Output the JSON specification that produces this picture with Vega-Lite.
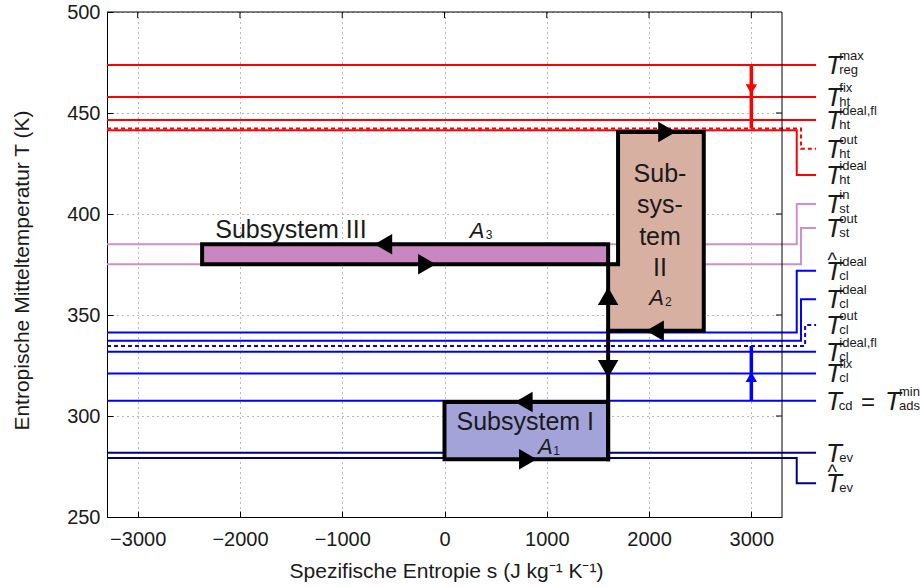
{
  "$schema": "https://vega.github.io/schema/vega-lite/v6.json",
  "autosize": "none",
  "width": 675,
  "height": 505,
  "padding": {"left": 107, "top": 12, "right": 138, "bottom": 70},
  "background": "white",
  "config": {
    "font": "Liberation Sans",
    "view": {"stroke": null},
    "axis": {
      "domainColor": "#000",
      "domainWidth": 1,
      "tickColor": "#000",
      "tickSize": -6,
      "labelColor": "#1a1a1a",
      "titleColor": "#1a1a1a",
      "labelFont": "Liberation Sans",
      "titleFont": "Liberation Sans",
      "labelFontSize": 20,
      "titleFontSize": 21,
      "titleFontWeight": "normal",
      "grid": true,
      "gridColor": "#000",
      "gridDash": [1, 4],
      "gridOpacity": 0.55,
      "gridWidth": 1
    }
  },
  "datasets": {
    "lines": [
      {"id": "rm", "grp": "heat", "dash": "solid", "o": 0, "s": -3300, "T": 473.8},
      {"id": "rm", "grp": "heat", "dash": "solid", "o": 1, "s": 3633, "T": 473.8},
      {"id": "hf", "grp": "heat", "dash": "solid", "o": 0, "s": -3300, "T": 457.9},
      {"id": "hf", "grp": "heat", "dash": "solid", "o": 1, "s": 3633, "T": 457.9},
      {"id": "hifl", "grp": "heat", "dash": "solid", "o": 0, "s": -3300, "T": 446.5},
      {"id": "hifl", "grp": "heat", "dash": "solid", "o": 1, "s": 3633, "T": 446.5},
      {"id": "ho", "grp": "heat", "dash": "dashed", "o": 0, "s": -3300, "T": 442.3},
      {"id": "ho", "grp": "heat", "dash": "dashed", "o": 1, "s": 3486, "T": 442.3},
      {"id": "ho", "grp": "heat", "dash": "dashed", "o": 2, "s": 3486, "T": 432.3},
      {"id": "ho", "grp": "heat", "dash": "dashed", "o": 3, "s": 3633, "T": 432.3},
      {"id": "hi", "grp": "heat", "dash": "solid", "o": 0, "s": -3300, "T": 441.5},
      {"id": "hi", "grp": "heat", "dash": "solid", "o": 1, "s": 3444, "T": 441.5},
      {"id": "hi", "grp": "heat", "dash": "solid", "o": 2, "s": 3444, "T": 419.3},
      {"id": "hi", "grp": "heat", "dash": "solid", "o": 3, "s": 3633, "T": 419.3},
      {"id": "si", "grp": "stor", "dash": "solid", "o": 0, "s": -3300, "T": 385.0},
      {"id": "si", "grp": "stor", "dash": "solid", "o": 1, "s": 3444, "T": 385.0},
      {"id": "si", "grp": "stor", "dash": "solid", "o": 2, "s": 3444, "T": 405.0},
      {"id": "si", "grp": "stor", "dash": "solid", "o": 3, "s": 3633, "T": 405.0},
      {"id": "so", "grp": "stor", "dash": "solid", "o": 0, "s": -3300, "T": 375.1},
      {"id": "so", "grp": "stor", "dash": "solid", "o": 1, "s": 3486, "T": 375.1},
      {"id": "so", "grp": "stor", "dash": "solid", "o": 2, "s": 3486, "T": 393.1},
      {"id": "so", "grp": "stor", "dash": "solid", "o": 3, "s": 3633, "T": 393.1},
      {"id": "cih", "grp": "cool", "dash": "solid", "o": 0, "s": -3300, "T": 341.3},
      {"id": "cih", "grp": "cool", "dash": "solid", "o": 1, "s": 3444, "T": 341.3},
      {"id": "cih", "grp": "cool", "dash": "solid", "o": 2, "s": 3444, "T": 371.9},
      {"id": "cih", "grp": "cool", "dash": "solid", "o": 3, "s": 3633, "T": 371.9},
      {"id": "ci", "grp": "cool", "dash": "solid", "o": 0, "s": -3300, "T": 337.3},
      {"id": "ci", "grp": "cool", "dash": "solid", "o": 1, "s": 3486, "T": 337.3},
      {"id": "ci", "grp": "cool", "dash": "solid", "o": 2, "s": 3486, "T": 357.8},
      {"id": "ci", "grp": "cool", "dash": "solid", "o": 3, "s": 3633, "T": 357.8},
      {"id": "co", "grp": "cool", "dash": "dashed", "o": 0, "s": -3300, "T": 334.7},
      {"id": "co", "grp": "cool", "dash": "dashed", "o": 1, "s": 3526, "T": 334.7},
      {"id": "co", "grp": "cool", "dash": "dashed", "o": 2, "s": 3526, "T": 345.0},
      {"id": "co", "grp": "cool", "dash": "dashed", "o": 3, "s": 3633, "T": 345.0},
      {"id": "cifl", "grp": "cool", "dash": "solid", "o": 0, "s": -3300, "T": 331.8},
      {"id": "cifl", "grp": "cool", "dash": "solid", "o": 1, "s": 3633, "T": 331.8},
      {"id": "cf", "grp": "cool", "dash": "solid", "o": 0, "s": -3300, "T": 321.1},
      {"id": "cf", "grp": "cool", "dash": "solid", "o": 1, "s": 3633, "T": 321.1},
      {"id": "cd", "grp": "cool", "dash": "solid", "o": 0, "s": -3300, "T": 307.6},
      {"id": "cd", "grp": "cool", "dash": "solid", "o": 1, "s": 3633, "T": 307.6},
      {"id": "ev", "grp": "evap", "dash": "solid", "o": 0, "s": -3300, "T": 281.8},
      {"id": "ev", "grp": "evap", "dash": "solid", "o": 1, "s": 3633, "T": 281.8},
      {"id": "evh", "grp": "evap", "dash": "solid", "o": 0, "s": -3300, "T": 279.2},
      {"id": "evh", "grp": "evap", "dash": "solid", "o": 1, "s": 3444, "T": 279.2},
      {"id": "evh", "grp": "evap", "dash": "solid", "o": 2, "s": 3444, "T": 266.7},
      {"id": "evh", "grp": "evap", "dash": "solid", "o": 3, "s": 3633, "T": 266.7}
    ],
    "boxes": [
      {"box": "I", "s": 0, "s2": 1600, "T": 278.6, "T2": 306.9},
      {"box": "III", "s": -2370, "s2": 1600, "T": 375.1, "T2": 385.0},
      {"box": "II", "s": 1600, "s2": 2535, "T": 342.2, "T2": 376.0},
      {"box": "II", "s": 1697, "s2": 2535, "T": 375.1, "T2": 440.6}
    ],
    "outline": [
      {"id": "I", "o": 0, "s": 0, "T": 278.6},
      {"id": "I", "o": 1, "s": 1600, "T": 278.6},
      {"id": "I", "o": 2, "s": 1600, "T": 306.9},
      {"id": "I", "o": 3, "s": 0, "T": 306.9},
      {"id": "I", "o": 4, "s": 0, "T": 278.6},
      {"id": "III", "o": 0, "s": -2370, "T": 375.1},
      {"id": "III", "o": 1, "s": 1600, "T": 375.1},
      {"id": "III", "o": 2, "s": 1600, "T": 385.0},
      {"id": "III", "o": 3, "s": -2370, "T": 385.0},
      {"id": "III", "o": 4, "s": -2370, "T": 375.1},
      {"id": "II", "o": 0, "s": 1600, "T": 342.2},
      {"id": "II", "o": 1, "s": 2535, "T": 342.2},
      {"id": "II", "o": 2, "s": 2535, "T": 440.6},
      {"id": "II", "o": 3, "s": 1697, "T": 440.6},
      {"id": "II", "o": 4, "s": 1697, "T": 375.1},
      {"id": "II", "o": 5, "s": 1600, "T": 375.1},
      {"id": "V", "o": 0, "s": 1600, "T": 278.6},
      {"id": "V", "o": 1, "s": 1600, "T": 375.1}
    ],
    "indicators": [
      {"grp": "heat", "s": 3000, "T": 473.8, "T2": 442.3},
      {"grp": "cool", "s": 3000, "T": 307.6, "T2": 334.7}
    ],
    "cycleArrows": [
      {"dir": "left", "s": -598, "T": 385.0},
      {"dir": "right", "s": -171, "T": 375.1},
      {"dir": "right", "s": 2176, "T": 440.6},
      {"dir": "left", "s": 2058, "T": 342.2},
      {"dir": "left", "s": 775, "T": 306.9},
      {"dir": "right", "s": 816, "T": 278.6},
      {"dir": "up", "s": 1600, "T": 359.4},
      {"dir": "down", "s": 1600, "T": 323.3}
    ],
    "indicatorHeads": [
      {"grp": "heat", "dir": "down", "s": 3000, "T": 461.8},
      {"grp": "cool", "dir": "up", "s": 3000, "T": 319.3}
    ],
    "lblT": [
      {"txt": "T", "s": 3730, "T": 473.8},
      {"txt": "T", "s": 3730, "T": 457.9},
      {"txt": "T", "s": 3730, "T": 446.5},
      {"txt": "T", "s": 3730, "T": 432.3},
      {"txt": "T", "s": 3730, "T": 419.3},
      {"txt": "T", "s": 3730, "T": 405.0},
      {"txt": "T", "s": 3730, "T": 393.1},
      {"txt": "T", "s": 3730, "T": 371.9},
      {"txt": "T", "s": 3730, "T": 357.8},
      {"txt": "T", "s": 3730, "T": 345.0},
      {"txt": "T", "s": 3730, "T": 331.8},
      {"txt": "T", "s": 3730, "T": 321.1},
      {"txt": "T", "s": 3730, "T": 307.6},
      {"txt": "T", "s": 4307, "T": 307.6},
      {"txt": "T", "s": 3730, "T": 281.8},
      {"txt": "T", "s": 3730, "T": 266.7}
    ],
    "lblSup": [
      {"txt": "max", "s": 3860, "T": 473.8},
      {"txt": "fix", "s": 3860, "T": 457.9},
      {"txt": "ideal,fl", "s": 3860, "T": 446.5},
      {"txt": "out", "s": 3860, "T": 432.3},
      {"txt": "ideal", "s": 3860, "T": 419.3},
      {"txt": "in", "s": 3860, "T": 405.0},
      {"txt": "out", "s": 3860, "T": 393.1},
      {"txt": "ideal", "s": 3860, "T": 371.9},
      {"txt": "ideal", "s": 3860, "T": 357.8},
      {"txt": "out", "s": 3860, "T": 345.0},
      {"txt": "ideal,fl", "s": 3860, "T": 331.8},
      {"txt": "fix", "s": 3860, "T": 321.1},
      {"txt": "min", "s": 4444, "T": 307.6}
    ],
    "lblSub": [
      {"txt": "reg", "s": 3860, "T": 473.8},
      {"txt": "ht", "s": 3860, "T": 457.9},
      {"txt": "ht", "s": 3860, "T": 446.5},
      {"txt": "ht", "s": 3860, "T": 432.3},
      {"txt": "ht", "s": 3860, "T": 419.3},
      {"txt": "st", "s": 3860, "T": 405.0},
      {"txt": "st", "s": 3860, "T": 393.1},
      {"txt": "cl", "s": 3860, "T": 371.9},
      {"txt": "cl", "s": 3860, "T": 357.8},
      {"txt": "cl", "s": 3860, "T": 345.0},
      {"txt": "cl", "s": 3860, "T": 331.8},
      {"txt": "cl", "s": 3860, "T": 321.1},
      {"txt": "cd", "s": 3855, "T": 307.6},
      {"txt": "ads", "s": 4444, "T": 307.6},
      {"txt": "ev", "s": 3860, "T": 281.8},
      {"txt": "ev", "s": 3860, "T": 266.7}
    ],
    "lblHat": [
      {"txt": "^", "s": 3790, "T": 371.9},
      {"txt": "^", "s": 3790, "T": 266.7}
    ],
    "lblEq": [
      {"txt": "=", "s": 4072, "T": 307.6}
    ],
    "boxText": [
      {"txt": "Subsystem III", "s": -1501, "T": 388.0},
      {"txt": "Subsystem I", "s": 790, "T": 293.1},
      {"txt": "Sub-", "s": 2107, "T": 415.8},
      {"txt": "sys-", "s": 2107, "T": 400.5},
      {"txt": "tem", "s": 2107, "T": 384.9},
      {"txt": "II", "s": 2107, "T": 369.1}
    ],
    "areaA": [
      {"txt": "A", "s": 318, "T": 388.0},
      {"txt": "A", "s": 986, "T": 281.2},
      {"txt": "A", "s": 2075, "T": 354.9}
    ],
    "areaSub": [
      {"txt": "3", "s": 435, "T": 388.0},
      {"txt": "1", "s": 1097, "T": 281.2},
      {"txt": "2", "s": 2188, "T": 354.9}
    ],
    "frame": [
      {"s": 3300, "s2": 3300, "T": 250, "T2": 500},
      {"s": -3300, "s2": 3300, "T": 500, "T2": 500},
      {"s": 3300, "s2": 3241, "T": 300, "T2": 300},
      {"s": 3300, "s2": 3241, "T": 350, "T2": 350},
      {"s": 3300, "s2": 3241, "T": 400, "T2": 400},
      {"s": 3300, "s2": 3241, "T": 450, "T2": 450},
      {"s": -3000, "s2": -3000, "T": 500, "T2": 497},
      {"s": -2000, "s2": -2000, "T": 500, "T2": 497},
      {"s": -1000, "s2": -1000, "T": 500, "T2": 497},
      {"s": 0, "s2": 0, "T": 500, "T2": 497},
      {"s": 1000, "s2": 1000, "T": 500, "T2": 497},
      {"s": 2000, "s2": 2000, "T": 500, "T2": 497},
      {"s": 3000, "s2": 3000, "T": 500, "T2": 497}
    ]
  },
  "encoding": {
    "x": {
      "field": "s",
      "type": "quantitative",
      "scale": {"domain": [-3300, 3300], "nice": false, "zero": false},
      "axis": {
        "values": [-3000, -2000, -1000, 0, 1000, 2000, 3000],
        "format": "d",
        "labelPadding": 18,
        "title": "Spezifische Entropie s (J kg⁻¹ K⁻¹)",
        "titleX": 339,
        "titleY": 60,
        "titleAlign": "center",
        "titleBaseline": "alphabetic"
      }
    },
    "y": {
      "field": "T",
      "type": "quantitative",
      "scale": {"domain": [250, 500], "nice": false, "zero": false},
      "axis": {
        "values": [250, 300, 350, 400, 450, 500],
        "format": "d",
        "labelPadding": 13,
        "title": "Entropische Mitteltemperatur T (K)",
        "titleX": -85,
        "titleY": 258,
        "titleAngle": 270,
        "titleAlign": "center",
        "titleBaseline": "middle"
      }
    }
  },
  "layer": [
    {
      "data": {"name": "lines"},
      "mark": {"type": "line", "strokeWidth": 2, "clip": false},
      "encoding": {
        "detail": {"field": "id"},
        "order": {"field": "o", "type": "quantitative"},
        "color": {
          "field": "grp",
          "type": "nominal",
          "scale": {"domain": ["heat", "stor", "cool", "evap"], "range": ["#ff0000", "#cf8fcb", "#0000ff", "#000080"]},
          "legend": null
        },
        "strokeDash": {
          "field": "dash",
          "type": "nominal",
          "scale": {"domain": ["solid", "dashed"], "range": [[1, 0], [4, 3]]},
          "legend": null
        }
      }
    },
    {
      "data": {"name": "boxes"},
      "mark": {"type": "rect"},
      "encoding": {
        "x2": {"field": "s2"},
        "y2": {"field": "T2"},
        "fill": {
          "field": "box",
          "type": "nominal",
          "scale": {"domain": ["I", "II", "III"], "range": ["#a3a3da", "#d8b0a2", "#c987c1"]},
          "legend": null
        }
      }
    },
    {
      "data": {"name": "outline"},
      "mark": {"type": "line", "color": "#000", "strokeWidth": 4, "strokeCap": "square", "strokeJoin": "miter"},
      "encoding": {
        "detail": {"field": "id"},
        "order": {"field": "o", "type": "quantitative"}
      }
    },
    {
      "data": {"name": "indicators"},
      "mark": {"type": "rule", "strokeWidth": 3.5},
      "encoding": {
        "y2": {"field": "T2"},
        "color": {"field": "grp", "type": "nominal", "legend": null}
      }
    },
    {
      "data": {"name": "indicatorHeads"},
      "mark": {"type": "point", "filled": true, "opacity": 1, "size": 130},
      "encoding": {
        "color": {"field": "grp", "type": "nominal", "legend": null},
        "shape": {
          "field": "dir",
          "type": "nominal",
          "scale": {"domain": ["left", "right", "up", "down"], "range": ["triangle-left", "triangle-right", "triangle-up", "triangle-down"]},
          "legend": null
        }
      }
    },
    {
      "data": {"name": "cycleArrows"},
      "mark": {"type": "point", "filled": true, "opacity": 1, "size": 420, "color": "#000"},
      "encoding": {
        "shape": {"field": "dir", "type": "nominal", "legend": null}
      }
    },
    {
      "data": {"name": "lblT"},
      "mark": {"type": "text", "align": "left", "baseline": "alphabetic", "dy": 9, "fontSize": 26, "fontStyle": "italic", "color": "#1a1a1a"},
      "encoding": {"text": {"field": "txt"}}
    },
    {
      "data": {"name": "lblSup"},
      "mark": {"type": "text", "align": "left", "baseline": "alphabetic", "dy": -5, "fontSize": 13, "color": "#1a1a1a"},
      "encoding": {"text": {"field": "txt"}}
    },
    {
      "data": {"name": "lblSub"},
      "mark": {"type": "text", "align": "left", "baseline": "alphabetic", "dy": 9, "fontSize": 13, "color": "#1a1a1a"},
      "encoding": {"text": {"field": "txt"}}
    },
    {
      "data": {"name": "lblHat"},
      "mark": {"type": "text", "align": "center", "baseline": "alphabetic", "dy": -4, "fontSize": 20, "color": "#1a1a1a"},
      "encoding": {"text": {"field": "txt"}}
    },
    {
      "data": {"name": "lblEq"},
      "mark": {"type": "text", "align": "left", "baseline": "alphabetic", "dy": 9, "fontSize": 24, "color": "#1a1a1a"},
      "encoding": {"text": {"field": "txt"}}
    },
    {
      "data": {"name": "boxText"},
      "mark": {"type": "text", "align": "center", "baseline": "alphabetic", "fontSize": 25, "color": "#1a1a1a"},
      "encoding": {"text": {"field": "txt"}}
    },
    {
      "data": {"name": "areaA"},
      "mark": {"type": "text", "align": "center", "baseline": "alphabetic", "fontSize": 22, "fontStyle": "italic", "color": "#1a1a1a"},
      "encoding": {"text": {"field": "txt"}}
    },
    {
      "data": {"name": "areaSub"},
      "mark": {"type": "text", "align": "center", "baseline": "alphabetic", "dy": 1, "fontSize": 12, "color": "#1a1a1a"},
      "encoding": {"text": {"field": "txt"}}
    },
    {
      "data": {"name": "frame"},
      "mark": {"type": "rule", "color": "#000", "strokeWidth": 1},
      "encoding": {
        "x2": {"field": "s2"},
        "y2": {"field": "T2"}
      }
    }
  ]
}
